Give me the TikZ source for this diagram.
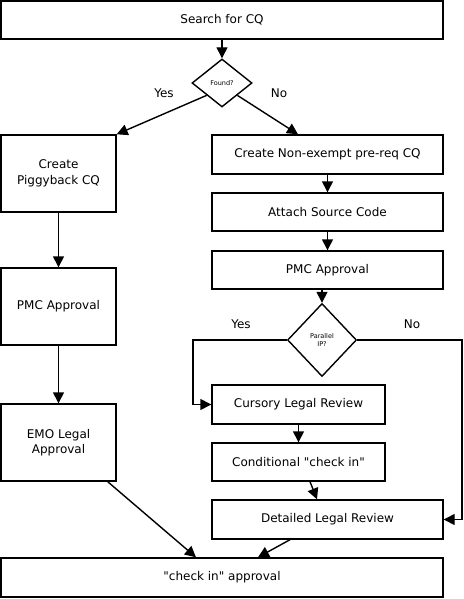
\documentclass[tikz,border=0pt]{standalone}
\usepackage{fontspec}
\setmainfont{DejaVu Sans}
\usetikzlibrary{shapes.geometric,arrows.meta}
\newcommand{\flowcolor}{black}
\newcommand{\flowwidth}{1.4pt}
\newcommand{\tipsize}{11pt}
\tikzset{
  flowbox/.style={draw=\flowcolor, rectangle, line width=\flowwidth, align=center, inner sep=0pt, font=\fontsize{12}{15.5}\selectfont},
  choice/.style={draw=\flowcolor, diamond, line width=\flowwidth, align=center, inner sep=0pt, font=\fontsize{6.5}{8}\selectfont},
  flow/.style={\flowcolor, line width=\flowwidth, -{Triangle[length=\tipsize, width=\tipsize]}},
  answer/.style={font=\fontsize{12}{14}\selectfont}
}

\begin{document}
\begin{tikzpicture}[x=1pt, y=-1pt]
\useasboundingbox (0,0) rectangle (463,599);
%top
\node[flowbox] (search) at (222, 20) [minimum width=442pt, minimum height=38pt] {Search for CQ};
\node[choice] (found) at (222, 83) [minimum width=60pt, minimum height=48pt] {Found?};
\node[answer] (yes1) at (164, 93) {Yes};
\node[answer] (no1) at (279, 93) {No};
%left column
\node[flowbox] (piggy) at (58.5, 173.5) [minimum width=115pt, minimum height=77pt] {Create\\Piggyback CQ};
\node[flowbox] (pmcl) at (58.5, 306.5) [minimum width=115pt, minimum height=77pt] {PMC Approval};
\node[flowbox] (emo) at (58.5, 442.5) [minimum width=115pt, minimum height=77pt] {EMO Legal\\Approval};
%right column
\node[flowbox] (nonex) at (327.5, 154.5) [minimum width=231pt, minimum height=39pt] {Create Non-exempt pre-req CQ};
\node[flowbox] (attach) at (327.5, 212) [minimum width=231pt, minimum height=38pt] {Attach Source Code};
\node[flowbox] (pmcr) at (327.5, 270) [minimum width=231pt, minimum height=38pt] {PMC Approval};
\node[choice] (parallel) at (322, 340) [minimum width=69pt, minimum height=73pt] {Parallel\\IP?};
\node[answer] (yes2) at (241, 324) {Yes};
\node[answer] (no2) at (412, 324) {No};
\node[flowbox] (cursory) at (298.5, 404.5) [minimum width=173pt, minimum height=39pt] {Cursory Legal Review};
\node[flowbox] (cond) at (298.5, 462) [minimum width=173pt, minimum height=38pt] {Conditional \textquotedbl check in\textquotedbl};
\node[flowbox] (detailed) at (327.5, 519.5) [minimum width=231pt, minimum height=39pt] {Detailed Legal Review};
%bottom
\node[flowbox] (checkin) at (222, 577.5) [minimum width=442pt, minimum height=39pt] {\textquotedbl check in\textquotedbl{} approval};
\coordinate (yesbend) at (193, 404.5);
\coordinate (nobend) at (462, 519.5);
%arrows
\draw[flow] (search) -- (found);
\draw[flow] (found.south west) -- (piggy.north east);
\draw[flow] (found.south east) -- ([xshift=-29.5pt]nonex.north);
\draw[flow] (piggy) -- (pmcl);
\draw[flow] (pmcl) -- (emo);
\draw[flow] (nonex) -- (attach);
\draw[flow] (attach) -- (pmcr);
\draw[flow] (pmcr.south -| parallel) -- (parallel.north);
\draw[flow] (parallel.west) -| (yesbend) -- (cursory.west);
\draw[flow] (parallel.east) -| (nobend) -- (detailed.east);
\draw[flow] (cursory.south -| cond) -- (cond);
\draw[flow] ([xshift=11.5pt]cond.south) -- ([xshift=-10.5pt]detailed.north);
\draw[flow] ([xshift=-9pt]emo.south east) -- ([xshift=-26pt]checkin.north);
\draw[flow] ([xshift=-37.5pt]detailed.south) -- ([xshift=36pt]checkin.north);
\end{tikzpicture}
\end{document}
